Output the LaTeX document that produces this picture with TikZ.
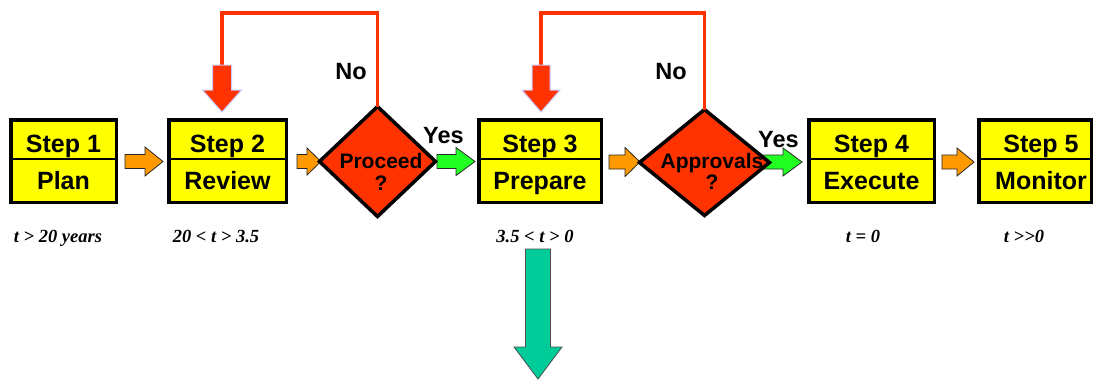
\documentclass[tikz,border=0pt]{standalone}
\usepackage{fontspec}
\setmainfont{Liberation Sans}
\newfontfamily\timesfont{Liberation Serif}
\usetikzlibrary{shapes.geometric}

\definecolor{boxyellow}{HTML}{FFFF00}
\definecolor{decred}{HTML}{FF3300}
\definecolor{floworange}{HTML}{FF9900}
\definecolor{flowgreen}{HTML}{22FF22}
\definecolor{downteal}{HTML}{00CC99}
\definecolor{haze}{HTML}{C8C8FF}

% right-pointing block arrow: style, tail x, tip x, centre y, shaft half, head half, head start x
\newcommand{\rblock}[7]{\filldraw[#1] (#2,{#4-#5}) -- (#7,{#4-#5}) -- (#7,{#4-#6}) -- (#3,#4) -- (#7,{#4+#6}) -- (#7,{#4+#5}) -- (#2,{#4+#5}) -- cycle;}
% down-pointing block arrow: style, top y, tip y, centre x, shaft half, head half, head start y
\newcommand{\dblock}[7]{\filldraw[#1] ({#4-#5},#2) -- ({#4-#5},#7) -- ({#4-#6},#7) -- (#4,#3) -- ({#4+#6},#7) -- ({#4+#5},#7) -- ({#4+#5},#2) -- cycle;}

\tikzset{
  stepbox/.style={draw=black, line width=3.5pt, fill=boxyellow, minimum height=82.5pt,
                  inner sep=0pt, outer sep=0pt},
  steptext/.style={font=\fontsize{25}{25}\selectfont\bfseries, anchor=base, inner sep=0pt},
  divider/.style={draw=black, line width=1.2pt},
  decision/.style={diamond, draw=black, line width=3.5pt, fill=decred, inner sep=0pt, outer sep=0pt},
  decisiontext/.style={font=\fontsize{21}{21}\selectfont\bfseries, anchor=base, inner sep=0pt},
  answer/.style={font=\fontsize{23.5}{23.5}\selectfont\bfseries, anchor=base, inner sep=0pt},
  timelabel/.style={font=\timesfont\fontsize{18.5}{18.5}\selectfont\bfseries\itshape, anchor=base, inner sep=0pt},
  orangearrow/.style={fill=floworange, draw=black!85, line width=0.8pt, line join=miter},
  greenarrow/.style={fill=flowgreen, draw=black!85, line width=0.8pt, line join=miter},
  backarrow/.style={fill=decred, draw=haze, line width=1pt, line join=miter},
  tealarrow/.style={fill=downteal, draw=black!70, line width=0.8pt, line join=miter},
  loopline/.style={draw=decred, line width=3.5pt},
}

\begin{document}
\begin{tikzpicture}[x=1pt, y=-1pt]
\useasboundingbox (0,0) rectangle (1093,380);

% ---- flow arrows between the stages (drawn first, shapes sit on top)
\rblock{orangearrow}{125}{163}{161.5}{7}{14.5}{145}
\rblock{orangearrow}{297}{321}{161.5}{7}{13.5}{307}
\rblock{greenarrow}{437}{475}{161.5}{7}{14}{456}
\rblock{orangearrow}{609}{640}{162}{7}{14.5}{625}
\rblock{greenarrow}{763}{802}{162}{7}{14}{783}
\rblock{orangearrow}{942}{974}{162}{7}{14}{957}

% ---- step boxes
\node[stepbox, minimum width=105.5pt] (s1) at (63.5,161) {};
\node[stepbox, minimum width=117.5pt] (s2) at (227.5,161) {};
\node[stepbox, minimum width=122.5pt] (s3) at (540,161) {};
\node[stepbox, minimum width=125.5pt] (s4) at (871.5,161) {};
\node[stepbox, minimum width=112.5pt] (s5) at (1035,161) {};
\foreach \b in {s1,s2,s3,s4,s5}
  \draw[divider] ([yshift=2pt]\b.west) -- ([yshift=2pt]\b.east);

\node[steptext] (s1a) at (63.5,152) {Step 1};
\node[steptext] (s1b) at (63.5,189) {Plan};
\node[steptext] (s2a) at (227.5,152) {Step 2};
\node[steptext] (s2b) at (227.5,189) {Review};
\node[steptext] (s3a) at (540,152) {Step 3};
\node[steptext] (s3b) at (540,189) {Prepare};
\node[steptext] (s4a) at (871.5,152) {Step 4};
\node[steptext] (s4b) at (871.5,189) {Execute};
\node[steptext] (s5a) at (1041,152) {Step 5};
\node[steptext] (s5b) at (1041,189) {Monitor};

% ---- decisions
\node[decision, minimum width=116pt, minimum height=110pt] (d1) at (377.5,161.5) {};
\node[decision, minimum width=130pt, minimum height=106pt] (d2) at (704.5,162.5) {};
\node[decisiontext] (d1a) at (381,168) {Proceed};
\node[decisiontext] (d1b) at (381,190) {?};
\node[decisiontext] (d2a) at (712,168) {Approvals};
\node[decisiontext] (d2b) at (712,189) {?};

\node[answer] (yes1) at (443.5,143) {Yes};
\node[answer] (yes2) at (778.5,147) {Yes};
\node[answer] (no1) at (351,79) {No};
\node[answer] (no2) at (671,79) {No};

% ---- "No" loops back to the previous step
\coordinate (c1) at (222,13);
\coordinate (r1) at (222,66);
\coordinate (c2) at (541,13);
\coordinate (r2) at (541,66);
\draw[loopline] (d1.north) |- (c1) -- (r1);
\draw[loopline] (d2.north) |- (c2) -- (r2);
\dblock{backarrow}{65}{112}{222}{9.5}{19.5}{90}
\dblock{backarrow}{65}{112}{541}{9}{19}{90}

% ---- time spans
\node[timelabel] (t1) at (58,242) {t > 20 years};
\node[timelabel] (t2) at (216,242) {20 < t > 3.5};
\node[timelabel] (t3) at (535,242) {3.5 < t > 0};
\node[timelabel] (t4) at (863,242) {t = 0};
\node[timelabel] (t5) at (1024,242) {t >>0};

% ---- downward arrow from the preparation phase
\dblock{tealarrow}{249}{379}{538}{12.5}{24}{347}
\end{tikzpicture}
\end{document}
